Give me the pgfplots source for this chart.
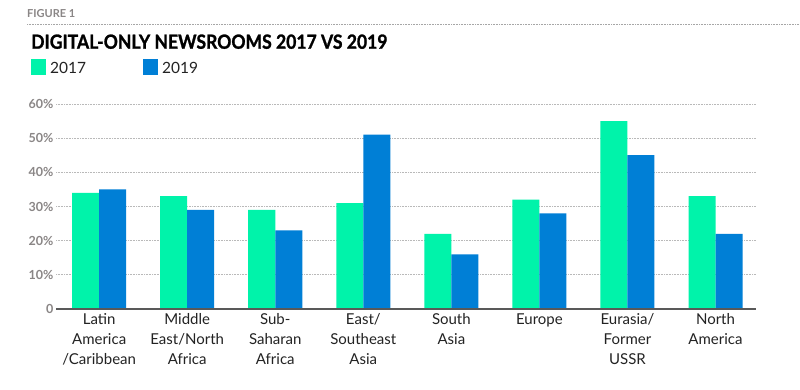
\documentclass[border=0pt]{standalone}
\usepackage{pgfplots}
\pgfplotsset{compat=1.18}
\usepackage{fontspec}
\setmainfont{Lato}
\newfontfamily\titlefont{Lato}[FakeBold=1.3]
\definecolor{grn}{RGB}{0,243,170}
\definecolor{blu}{RGB}{0,127,214}
\definecolor{tickgray}{RGB}{138,134,134}
\definecolor{labgray}{RGB}{35,35,35}
\pgfplotstableread{
x y17 y19
0 34 35
1 33 29
2 29 23
3 31 51
4 22 16
5 32 28
6 55 45
7 33 22
}\datatable
\begin{document}
\begin{tikzpicture}
\useasboundingbox (0pt,0pt) rectangle (800pt,390pt);
\fill[white] (0pt,0pt) rectangle (800pt,390pt);
\node[anchor=west, font=\bfseries\fontsize{11}{12}\selectfont, text=tickgray, inner sep=0] at (27pt,376pt) {FIGURE 1};
\draw[line width=0.9pt, gray!70, dash pattern=on 0.8pt off 0.8pt] (27pt,365.5pt) -- (800pt,365.5pt);
\node[anchor=west, font=\titlefont\bfseries\fontsize{19.5}{22}\selectfont, inner sep=0] at (31pt,348.3pt) {\scalebox{0.9}[1]{DIGITAL-ONLY NEWSROOMS 2017 VS 2019}};
\fill[grn] (31pt,315pt) rectangle (46pt,331pt);
\node[anchor=west, font=\fontsize{15.5}{18}\selectfont, inner sep=0, text=labgray] at (50pt,322.5pt) {2017};
\fill[blu] (143pt,315pt) rectangle (158pt,331pt);
\node[anchor=west, font=\fontsize{15.5}{18}\selectfont, inner sep=0, text=labgray] at (162pt,322.5pt) {2019};
\begin{axis}[
  at={(56pt,81pt)}, anchor=south west, scale only axis,
  width=700pt, height=205pt,
  xmin=-0.49, xmax=7.46, ymin=0, ymax=60,
  ybar=0pt, bar width=27pt,
  xtick={0,...,7},
  xticklabels={Latin\\America\\/Caribbean, Middle\\East/North\\Africa, Sub-\\Saharan\\Africa, East/\\Southeast\\Asia, South\\Asia, Europe, Eurasia/\\Former\\USSR, North\\America},
  xticklabel style={align=center, text=labgray, font=\fontsize{15}{20}\selectfont, anchor=north, yshift=-1pt},
  ytick={0,10,...,60},
  yticklabels={0,10\%,20\%,30\%,40\%,50\%,60\%},
  yticklabel style={text=tickgray, font=\bfseries\fontsize{12.5}{14}\selectfont, xshift=1pt},
  major tick length=0pt,
  ymajorgrids,
  major grid style={line width=0.9pt, gray!55, dash pattern=on 0.8pt off 0.8pt},
  axis x line*=bottom, axis y line*=left,
  x axis line style={draw=none}, y axis line style={draw=none},
  axis line style={-},
  clip=false,
]
\addplot[fill=grn, draw=none] table[x=x, y=y17] {\datatable};
\addplot[fill=blu, draw=none] table[x=x, y=y19] {\datatable};
\draw[line width=1.8pt, black!65] (rel axis cs:0,0) -- (rel axis cs:1,0);
\end{axis}
\end{tikzpicture}
\end{document}
